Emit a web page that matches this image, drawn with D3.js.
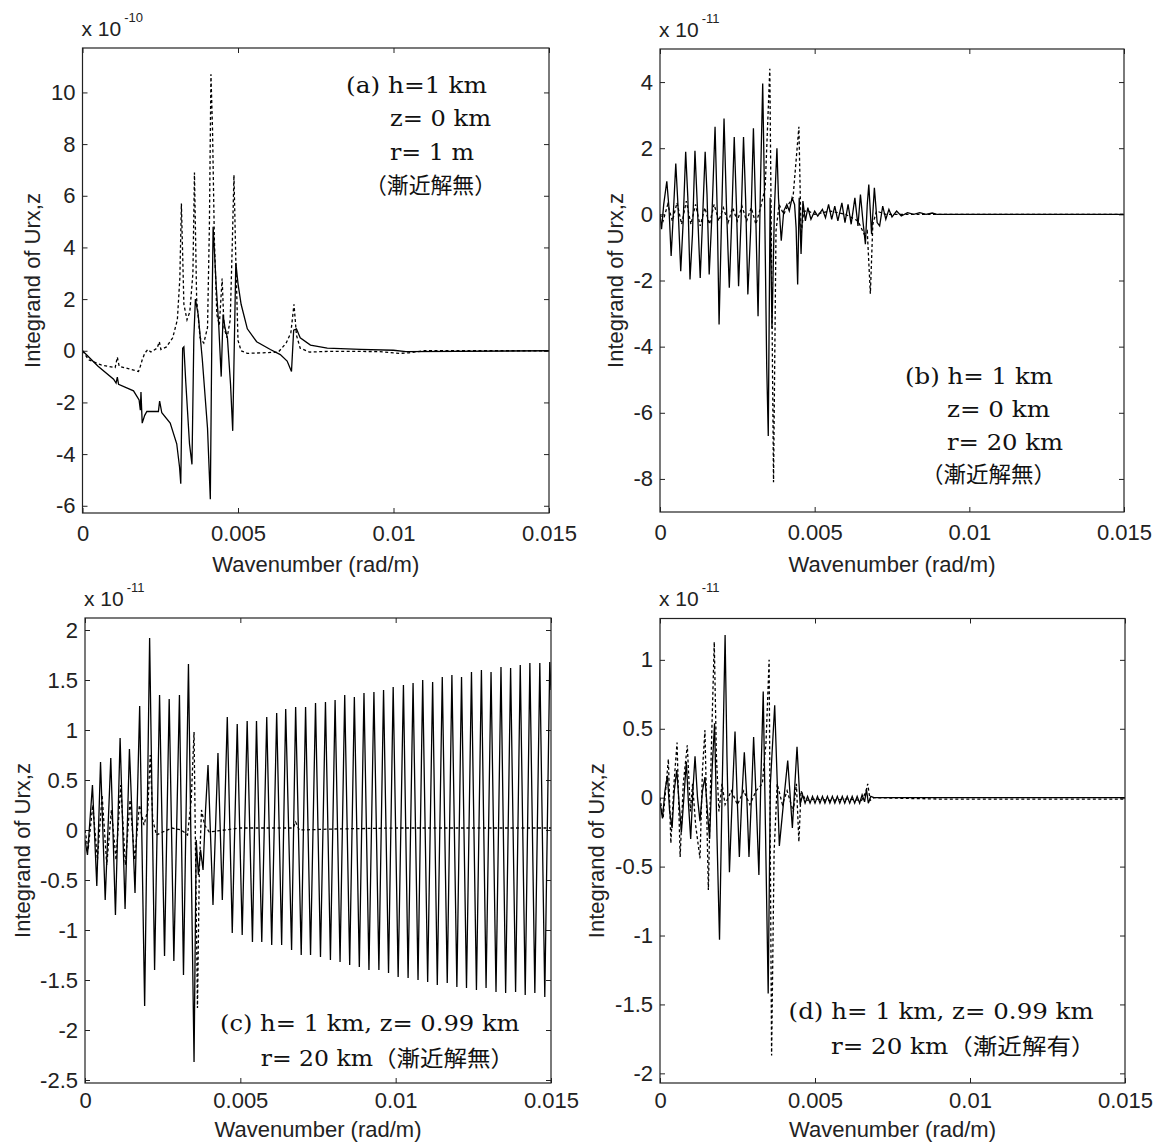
<!DOCTYPE html>
<html><head><meta charset="utf-8">
<script src="https://cdn.jsdelivr.net/npm/d3@7"></script>
<style>body{margin:0;background:#fff}</style>
</head><body>
<svg id="chart" width="1159" height="1145"></svg>
<script>
// ---------------- data (x in units of 1e-3 rad/m, y in units of the panel exponent) -------------
const X_TICKS = [0, 5, 10, 15];
const X_TICK_LABELS = ["0", "0.005", "0.01", "0.015"];

const A_Y_TICKS = [-6, -4, -2, 0, 2, 4, 6, 8, 10];
const B_Y_TICKS = [-8, -6, -4, -2, 0, 2, 4];
const C_Y_TICKS = [-2.5, -2, -1.5, -1, -0.5, 0, 0.5, 1, 1.5, 2];
const D_Y_TICKS = [-2, -1.5, -1, -0.5, 0, 0.5, 1];

const A_SOLID = [[0,0],[0.5,-0.6],[1.0,-1.1],[1.08,-1.25],[1.12,-1.02],[1.16,-1.3],[1.64,-1.55],[1.82,-1.9],[1.86,-2.3],[1.88,-1.6],[1.92,-2.8],[2.0,-2.5],[2.07,-2.35],[2.44,-2.35],[2.48,-1.95],[2.55,-2.4],[2.82,-2.8],[3.03,-3.6],[3.12,-4.5],[3.16,-5.15],[3.22,0.1],[3.26,0.15],[3.32,-1.2],[3.44,-3.6],[3.52,-4.4],[3.58,0.5],[3.63,2.0],[3.72,1.4],[3.85,-0.3],[4.02,-3.0],[4.11,-5.75],[4.17,2.0],[4.2,4.8],[4.24,3.9],[4.30,2.5],[4.38,1.0],[4.46,-1.0],[4.52,1.4],[4.58,0.9],[4.66,0.5],[4.76,-1.3],[4.83,-3.1],[4.93,3.4],[5.0,2.6],[5.1,1.8],[5.3,0.85],[5.6,0.35],[6.04,0.05],[6.36,-0.15],[6.58,-0.4],[6.72,-0.8],[6.79,0.8],[6.88,0.85],[7.0,0.5],[7.33,0.22],[7.87,0.1],[8.94,0.05],[10.0,0.02],[10.4,-0.03],[15,0]];
const A_DASH = [[0,0],[0.2,-0.35],[0.6,-0.55],[1.05,-0.65],[1.12,-0.25],[1.18,-0.6],[1.5,-0.7],[1.80,-0.8],[1.86,-0.6],[1.92,-0.35],[2.0,-0.1],[2.1,0.05],[2.2,-0.05],[2.4,0.1],[2.47,0.35],[2.52,0.05],[2.7,0.15],[2.9,0.5],[3.05,1.2],[3.13,2.8],[3.18,5.7],[3.26,1.8],[3.36,1.2],[3.45,1.5],[3.55,3.0],[3.60,6.9],[3.67,2.0],[3.78,0.5],[3.90,0.3],[4.02,0.9],[4.08,4.8],[4.13,10.7],[4.18,8.6],[4.24,4.3],[4.32,1.4],[4.40,1.0],[4.49,2.8],[4.55,0.9],[4.65,0.5],[4.75,1.2],[4.82,4.3],[4.87,6.8],[4.93,3.5],[5.0,0.4],[5.1,0.0],[5.3,-0.1],[5.8,-0.08],[6.3,-0.05],[6.55,0.3],[6.7,0.7],[6.8,1.8],[6.88,0.6],[7.0,0.1],[7.3,-0.05],[8.0,-0.02],[9.5,-0.03],[10.2,-0.1],[10.5,-0.08],[11,0],[15,0]];

const B_SOLID = [[0,0],[0.05,-0.45],[0.12,0.3],[0.22,1.0],[0.29,0.2],[0.36,-1.26],[0.43,0.0],[0.51,1.54],[0.58,0.3],[0.67,-1.72],[0.75,-0.2],[0.83,1.89],[0.90,0.5],[0.97,-1.97],[1.05,-0.6],[1.13,1.92],[1.21,0.2],[1.30,-1.92],[1.37,-0.3],[1.46,1.89],[1.52,0.6],[1.59,-1.82],[1.68,0.0],[1.78,2.65],[1.85,0.1],[1.91,-3.33],[1.98,-0.5],[2.07,2.9],[2.15,0.2],[2.24,-2.22],[2.31,-0.4],[2.40,2.34],[2.47,0.3],[2.54,-2.17],[2.62,-0.2],[2.70,2.34],[2.77,0.4],[2.84,-2.42],[2.93,-0.5],[3.02,2.6],[3.09,0.2],[3.17,-3.08],[3.25,1.0],[3.32,3.96],[3.38,0.5],[3.45,-4.6],[3.50,-6.7],[3.56,0.5],[3.62,-3.45],[3.70,0.2],[3.78,2.0],[3.83,0.5],[3.92,-0.8],[4.0,0.1],[4.10,0.3],[4.18,0.1],[4.27,0.5],[4.35,0.3],[4.40,-0.4],[4.45,-2.12],[4.50,0.5],[4.56,-1.2],[4.62,0.4],[4.70,-0.2],[4.78,0.2],[4.88,-0.15],[5.0,0.1],[5.1,-0.05],[5.25,0.15],[5.35,-0.1],[5.45,0.3],[5.55,-0.15],[5.65,0.25],[5.75,-0.2],[5.88,0.35],[5.98,-0.25],[6.08,0.3],[6.18,-0.3],[6.30,0.5],[6.40,-0.35],[6.48,0.6],[6.56,-0.2],[6.64,-0.9],[6.70,0.3],[6.75,0.9],[6.84,-0.6],[6.93,0.8],[7.02,-0.25],[7.10,-0.35],[7.2,0.25],[7.3,-0.15],[7.4,0.15],[7.5,-0.08],[7.65,0.1],[7.8,-0.05],[8.0,0.05],[8.2,0.0],[8.4,0.05],[8.6,0.0],[8.8,0.04],[8.95,0.0],[15,0]];
const B_DASH = [[0,0],[0.1,-0.2],[0.25,0.3],[0.4,-0.2],[0.55,0.35],[0.7,-0.3],[0.85,0.4],[1.0,-0.3],[1.15,0.3],[1.3,-0.35],[1.45,0.2],[1.6,-0.3],[1.75,0.3],[1.9,-0.2],[2.05,0.2],[2.2,-0.25],[2.35,0.2],[2.5,-0.2],[2.65,0.25],[2.8,-0.2],[2.95,0.2],[3.1,-0.3],[3.25,0.2],[3.40,0.8],[3.55,4.4],[3.67,-8.1],[3.75,-0.5],[3.85,0.3],[4.0,0.0],[4.15,0.3],[4.30,0.5],[4.49,2.65],[4.56,-0.6],[4.65,0.1],[4.8,0.1],[5.0,0.0],[5.5,0.1],[6.0,0.0],[6.4,-0.2],[6.6,-0.6],[6.70,-0.5],[6.80,-2.4],[6.88,-0.3],[7.0,0.1],[7.3,0.0],[15,0]];

const C_SOLID = [[0,-0.1],[0.08,-0.25],[0.24,0.45],[0.38,-0.56],[0.50,0.68],[0.65,-0.70],[0.83,0.72],[0.98,-0.85],[1.13,0.92],[1.29,-0.79],[1.43,0.81],[1.61,-0.63],[1.76,1.24],[1.92,-1.76],[2.08,1.92],[2.24,-1.40],[2.40,1.35],[2.56,-1.26],[2.71,1.31],[2.86,-1.31],[3.04,1.35],[3.17,-1.45],[3.33,1.66],[3.51,-2.32],[3.58,-0.1],[3.65,-0.45],[3.72,-0.2],[3.80,-0.4],[3.88,0.2],[3.96,0.65],[4.12,-0.75],[4.28,0.77],[4.42,-0.70],[4.58,1.13],[4.74,-1.03],[4.90,1.06],[5.06,-1.05],[5.22,1.09],[5.39,-1.12],[5.52,1.09],[5.69,-1.12],[5.85,1.13],[6.01,-1.15],[6.17,1.17],[6.33,-1.15],[6.46,1.21],[6.65,-1.20],[6.78,1.23],[6.96,-1.25],[7.10,1.23],[7.26,-1.25],[7.42,1.27],[7.58,-1.27],[7.74,1.28],[7.90,-1.30],[8.05,1.30],[8.21,-1.32],[8.36,1.35],[8.52,-1.35],[8.67,1.33],[8.83,-1.37],[8.98,1.37],[9.14,-1.40],[9.30,1.38],[9.46,-1.40],[9.61,1.40],[9.77,-1.43],[9.92,1.43],[10.08,-1.47],[10.25,1.45],[10.40,-1.48],[10.56,1.47],[10.72,-1.50],[10.87,1.50],[11.03,-1.52],[11.19,1.48],[11.34,-1.55],[11.50,1.53],[11.66,-1.53],[11.81,1.55],[11.97,-1.57],[12.12,1.53],[12.28,-1.58],[12.44,1.58],[12.60,-1.60],[12.76,1.60],[12.91,-1.58],[13.07,1.58],[13.23,-1.62],[13.39,1.63],[13.54,-1.63],[13.70,1.62],[13.86,-1.62],[14.01,1.65],[14.17,-1.65],[14.32,1.67],[14.48,-1.63],[14.64,1.67],[14.80,-1.67],[14.96,1.68],[15.0,1.4]];
const C_DASH = [[0,0],[0.1,-0.2],[0.25,0.25],[0.4,-0.3],[0.55,0.35],[0.7,-0.35],[0.85,0.2],[1.0,-0.3],[1.15,0.45],[1.3,-0.35],[1.45,0.3],[1.6,-0.3],[1.75,0.25],[1.9,0.05],[2.02,0.2],[2.1,0.75],[2.18,0.1],[2.3,-0.05],[2.5,-0.02],[2.8,0.02],[3.1,0.0],[3.3,-0.05],[3.42,0.3],[3.51,0.98],[3.62,-1.78],[3.68,-0.4],[3.75,0.2],[3.85,0.05],[4.0,-0.02],[4.5,0.0],[5.0,0.02],[6.7,0.02],[6.78,0.08],[6.9,0.0],[8.0,0.01],[10.0,0.02],[12.0,0.02],[15.0,0.02]];

const D_SOLID = [[0,-0.04],[0.08,-0.15],[0.16,0.05],[0.24,0.16],[0.31,-0.1],[0.39,-0.22],[0.46,0.05],[0.54,0.2],[0.62,-0.05],[0.69,-0.25],[0.77,0.0],[0.85,0.26],[0.92,-0.05],[0.99,-0.30],[1.06,0.05],[1.13,0.30],[1.21,0.0],[1.29,-0.17],[1.37,0.05],[1.45,0.15],[1.53,-0.1],[1.60,-0.3],[1.68,0.2],[1.76,0.54],[1.84,-0.3],[1.92,-1.03],[2.0,0.0],[2.10,1.18],[2.16,0.3],[2.24,-0.54],[2.33,0.0],[2.42,0.48],[2.49,0.0],[2.56,-0.43],[2.64,0.0],[2.72,0.33],[2.80,0.0],[2.87,-0.43],[2.95,0.0],[3.02,0.44],[3.10,0.0],[3.19,-0.56],[3.25,0.1],[3.33,0.77],[3.40,-0.2],[3.49,-1.42],[3.56,0.1],[3.70,0.67],[3.85,-0.35],[4.00,0.0],[4.12,0.27],[4.27,-0.22],[4.42,0.37],[4.52,-0.05],[4.60,0.02],[4.68,-0.04],[4.76,0.01],[4.84,-0.04],[4.92,0.01],[5.00,-0.04],[5.08,0.01],[5.16,-0.04],[5.24,0.01],[5.32,-0.04],[5.40,0.01],[5.48,-0.04],[5.56,0.01],[5.64,-0.04],[5.72,0.01],[5.80,-0.04],[5.88,0.01],[5.96,-0.04],[6.04,0.01],[6.12,-0.04],[6.20,0.01],[6.28,-0.04],[6.36,0.01],[6.44,-0.04],[6.52,0.02],[6.60,-0.03],[6.66,0.06],[6.72,-0.04],[6.80,0.01],[6.90,0.0],[15,0]];
const D_DASH = [[0,0],[0.1,-0.15],[0.2,0.1],[0.27,0.28],[0.35,-0.33],[0.45,0.1],[0.55,0.4],[0.65,-0.43],[0.75,0.1],[0.88,0.38],[0.98,-0.1],[1.05,0.1],[1.15,-0.2],[1.29,-0.44],[1.37,0.2],[1.45,0.49],[1.56,-0.67],[1.65,0.3],[1.75,1.13],[1.82,0.3],[1.9,-0.1],[2.0,0.1],[2.1,-0.05],[2.3,0.05],[2.5,-0.05],[2.7,0.05],[2.9,-0.05],[3.1,0.05],[3.3,0.1],[3.42,0.4],[3.52,1.0],[3.60,-1.87],[3.68,-0.4],[3.78,0.1],[3.95,-0.05],[4.1,0.05],[4.3,-0.1],[4.4,0.1],[4.48,-0.32],[4.55,0.05],[4.7,-0.02],[5.0,-0.01],[5.5,-0.02],[6.0,-0.01],[6.5,-0.02],[6.64,0.04],[6.70,0.1],[6.78,-0.02],[6.9,0.0],[9.0,-0.01],[12.0,-0.01],[15,-0.01]];

// ---------------- layout -------------
const PANELS = [
  {left:82.5, right:549, top:48, bottom:513, yDomain:[-6.28,11.72], yTicks:A_Y_TICKS, exp:"-10", ylabX:32, xlabY:572, xPad:12,
   solid:A_SOLID, dash:A_DASH,
   notes:[{t:"(a) h=1 km",x1:346,x2:487,yc:85},{t:"z= 0 km",x1:390,x2:491,yc:118.5},{t:"r= 1 m",x1:390,x2:474,yc:152},{t:"（漸近解無）",x1:365,x2:496,yc:185}]},
  {left:660, right:1124, top:49, bottom:512, yDomain:[-9,5], yTicks:B_Y_TICKS, exp:"-11", ylabX:615, xlabY:572, xPad:12,
   solid:B_SOLID, dash:B_DASH,
   notes:[{t:"(b) h= 1 km",x1:905,x2:1053,yc:376},{t:"z= 0 km",x1:947,x2:1050,yc:409},{t:"r= 20 km",x1:947,x2:1063,yc:442.6},{t:"（漸近解無）",x1:921,x2:1056,yc:474}]},
  {left:85, right:551, top:618, bottom:1083, yDomain:[-2.53,2.12], yTicks:C_Y_TICKS, exp:"-11", ylabX:22, xlabY:1137, xPad:9,
   solid:C_SOLID, dash:C_DASH,
   notes:[{t:"(c) h= 1 km, z= 0.99 km",x1:220,x2:519.5,yc:1023},{t:"r= 20 km（漸近解無）",x1:260.7,x2:514,yc:1058.6}]},
  {left:660, right:1125, top:618.5, bottom:1083, yDomain:[-2.07,1.3], yTicks:D_Y_TICKS, exp:"-11", ylabX:596, xlabY:1137, xPad:9,
   solid:D_SOLID, dash:D_DASH,
   notes:[{t:"(d) h= 1 km, z= 0.99 km",x1:788.6,x2:1093.6,yc:1011},{t:"r= 20 km（漸近解有）",x1:831,x2:1095.5,yc:1046}]}
];

const SANS = "'Liberation Sans', Arial, Helvetica, sans-serif";
const SERIF = "'DejaVu Serif', 'Noto Sans CJK JP', serif";
const TXT = "#222";
const svg = d3.select("#chart");

PANELS.forEach((p, i) => {
  const g = svg.append("g");
  const x = d3.scaleLinear().domain([0, 15]).range([p.left, p.right]);
  const y = d3.scaleLinear().domain(p.yDomain).range([p.bottom, p.top]);

  const clipId = "clip" + i;
  svg.append("clipPath").attr("id", clipId).append("rect")
    .attr("x", p.left).attr("y", p.top).attr("width", p.right - p.left).attr("height", p.bottom - p.top);

  const styleAxis = sel => {
    sel.select(".domain").remove();
    sel.attr("font-family", SANS).attr("font-size", 22);
    sel.selectAll("line").attr("stroke", TXT).attr("stroke-width", 1);
    sel.selectAll("text").attr("fill", TXT);
  };
  const fmtY = d => String(d);

  g.append("g").attr("transform", `translate(0,${p.bottom})`)
    .call(d3.axisBottom(x).tickValues(X_TICKS).tickFormat((d, k) => X_TICK_LABELS[k]).tickSizeInner(-5).tickSizeOuter(0).tickPadding(p.xPad))
    .call(styleAxis);
  g.append("g").attr("transform", `translate(0,${p.top})`)
    .call(d3.axisTop(x).tickValues(X_TICKS).tickFormat("").tickSizeInner(-5).tickSizeOuter(0))
    .call(styleAxis);
  g.append("g").attr("transform", `translate(${p.left},0)`)
    .call(d3.axisLeft(y).tickValues(p.yTicks).tickFormat(fmtY).tickSizeInner(-5).tickSizeOuter(0).tickPadding(7))
    .call(styleAxis);
  g.append("g").attr("transform", `translate(${p.right},0)`)
    .call(d3.axisRight(y).tickValues(p.yTicks).tickFormat("").tickSizeInner(-5).tickSizeOuter(0))
    .call(styleAxis);

  const line = d3.line().x(d => x(d[0])).y(d => y(d[1]));
  const lines = g.append("g").attr("clip-path", `url(#${clipId})`);
  lines.append("path").datum(p.solid).attr("d", line)
    .attr("fill", "none").attr("stroke", "#000").attr("stroke-width", 1.3).attr("stroke-linejoin", "miter");
  lines.append("path").datum(p.dash).attr("d", line)
    .attr("fill", "none").attr("stroke", "#000").attr("stroke-width", 1.3).attr("stroke-dasharray", "3,2.5");

  g.append("rect").attr("x", p.left).attr("y", p.top).attr("width", p.right - p.left).attr("height", p.bottom - p.top)
    .attr("fill", "none").attr("stroke", TXT).attr("stroke-width", 1.2);

  // exponent label
  const ex = g.append("text").attr("x", p.left - 1).attr("y", p.top - 12.3)
    .attr("font-family", SANS).attr("font-size", 21).attr("fill", TXT);
  ex.append("tspan").text("x 10");
  ex.append("tspan").attr("dx", 3).attr("dy", -14).attr("font-size", 13).text(p.exp);

  // axis titles
  g.append("text").attr("x", (p.left + p.right) / 2).attr("y", p.xlabY)
    .attr("text-anchor", "middle").attr("font-family", SANS).attr("font-size", 22).attr("fill", TXT)
    .text("Wavenumber (rad/m)");
  g.append("text").attr("transform", `translate(${p.ylabX},${(p.top + p.bottom) / 2}) rotate(-90)`)
    .attr("dy", "0.35em").attr("text-anchor", "middle").attr("font-family", SANS).attr("font-size", 22).attr("fill", TXT)
    .text("Integrand of Urx,z");

  // annotations
  p.notes.forEach(n => {
    g.append("text").attr("x", n.x1).attr("y", n.yc).attr("dominant-baseline", "central")
      .attr("font-family", SERIF).attr("font-size", 22).attr("fill", "#111")
      .attr("textLength", n.x2 - n.x1).attr("lengthAdjust", "spacingAndGlyphs")
      .text(n.t);
  });
});
</script>
</body></html>
